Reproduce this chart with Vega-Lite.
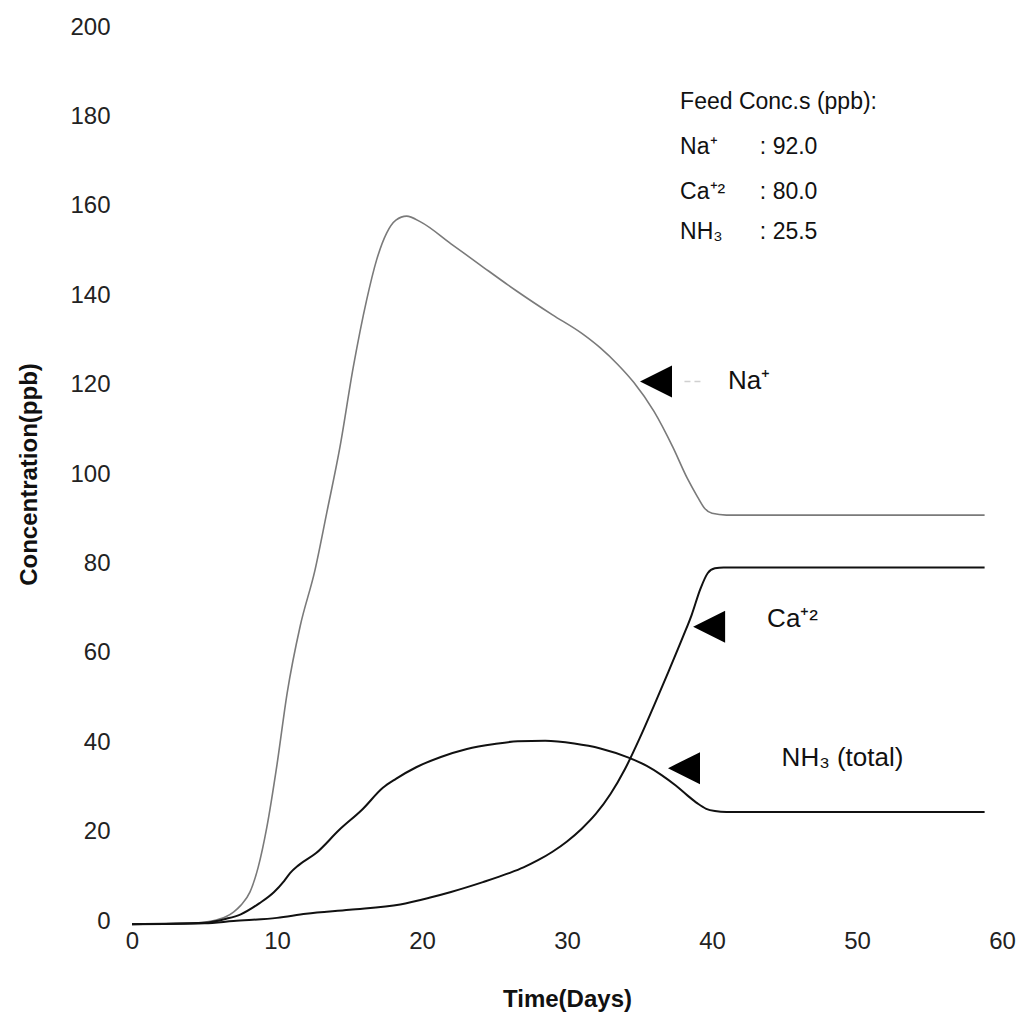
{
  "$schema": "https://vega.github.io/schema/vega-lite/v6.json",
  "width": 870,
  "height": 894,
  "autosize": "none",
  "padding": {"left": 132, "top": 27, "right": 22, "bottom": 106},
  "background": "white",
  "config": {
    "view": {"stroke": null},
    "font": "Liberation Sans",
    "axis": {"grid": false, "domain": false, "ticks": false, "labelColor": "#222", "titleColor": "#111"}
  },
  "datasets": {
    "curves": [
      {"series": "Na", "day": 0, "value": -0.7},
      {"series": "Na", "day": 4, "value": -0.5},
      {"series": "Na", "day": 5.5, "value": 0},
      {"series": "Na", "day": 6.5, "value": 1},
      {"series": "Na", "day": 7, "value": 2},
      {"series": "Na", "day": 7.5, "value": 3.5},
      {"series": "Na", "day": 8.14, "value": 6.5},
      {"series": "Na", "day": 8.7, "value": 12},
      {"series": "Na", "day": 9.3, "value": 21},
      {"series": "Na", "day": 10, "value": 35},
      {"series": "Na", "day": 10.7, "value": 51},
      {"series": "Na", "day": 11.6, "value": 66},
      {"series": "Na", "day": 12.62, "value": 78.5},
      {"series": "Na", "day": 13.43, "value": 91.3},
      {"series": "Na", "day": 14.34, "value": 106},
      {"series": "Na", "day": 15.26, "value": 123.9},
      {"series": "Na", "day": 16.18, "value": 138.9},
      {"series": "Na", "day": 16.87, "value": 147.9},
      {"series": "Na", "day": 17.56, "value": 153.9},
      {"series": "Na", "day": 18.2, "value": 156.8},
      {"series": "Na", "day": 18.94, "value": 157.7},
      {"series": "Na", "day": 19.9, "value": 156.4},
      {"series": "Na", "day": 22, "value": 151.5},
      {"series": "Na", "day": 24, "value": 146.8},
      {"series": "Na", "day": 26.5, "value": 141},
      {"series": "Na", "day": 29, "value": 135.6},
      {"series": "Na", "day": 31, "value": 131.5},
      {"series": "Na", "day": 32.3, "value": 128.2},
      {"series": "Na", "day": 33.5, "value": 124.5},
      {"series": "Na", "day": 34.6, "value": 120.5},
      {"series": "Na", "day": 36, "value": 114},
      {"series": "Na", "day": 37.3, "value": 106},
      {"series": "Na", "day": 38.3, "value": 99},
      {"series": "Na", "day": 39, "value": 94.9},
      {"series": "Na", "day": 39.5, "value": 92.3},
      {"series": "Na", "day": 40, "value": 91.2},
      {"series": "Na", "day": 41, "value": 90.8},
      {"series": "Na", "day": 58.8, "value": 90.8},
      {"series": "Ca", "day": 0, "value": -0.7},
      {"series": "Ca", "day": 5, "value": -0.5},
      {"series": "Ca", "day": 7, "value": 0},
      {"series": "Ca", "day": 10, "value": 0.7},
      {"series": "Ca", "day": 12, "value": 1.6},
      {"series": "Ca", "day": 15, "value": 2.5},
      {"series": "Ca", "day": 18.5, "value": 3.7},
      {"series": "Ca", "day": 20.5, "value": 5.2},
      {"series": "Ca", "day": 22, "value": 6.5},
      {"series": "Ca", "day": 24.2, "value": 8.7},
      {"series": "Ca", "day": 26, "value": 10.7},
      {"series": "Ca", "day": 27, "value": 12},
      {"series": "Ca", "day": 28, "value": 13.6},
      {"series": "Ca", "day": 29, "value": 15.5},
      {"series": "Ca", "day": 30, "value": 17.8},
      {"series": "Ca", "day": 31, "value": 20.6},
      {"series": "Ca", "day": 32, "value": 24},
      {"series": "Ca", "day": 33, "value": 28.4},
      {"series": "Ca", "day": 34, "value": 34},
      {"series": "Ca", "day": 35, "value": 40.8},
      {"series": "Ca", "day": 36, "value": 48.2},
      {"series": "Ca", "day": 37, "value": 55.8},
      {"series": "Ca", "day": 38, "value": 63.6},
      {"series": "Ca", "day": 38.6, "value": 68.5},
      {"series": "Ca", "day": 39.2, "value": 74.3},
      {"series": "Ca", "day": 39.7, "value": 77.8},
      {"series": "Ca", "day": 40.2, "value": 78.9},
      {"series": "Ca", "day": 40.8, "value": 79.1},
      {"series": "Ca", "day": 58.8, "value": 79.1},
      {"series": "NH3", "day": 0, "value": -0.7},
      {"series": "NH3", "day": 5, "value": -0.4},
      {"series": "NH3", "day": 6.5, "value": 0.5},
      {"series": "NH3", "day": 7.5, "value": 1.5},
      {"series": "NH3", "day": 8.8, "value": 4},
      {"series": "NH3", "day": 9.8, "value": 6.5},
      {"series": "NH3", "day": 10.5, "value": 9},
      {"series": "NH3", "day": 10.9, "value": 10.7},
      {"series": "NH3", "day": 11.5, "value": 12.5},
      {"series": "NH3", "day": 12.7, "value": 15.2},
      {"series": "NH3", "day": 14.3, "value": 20.4},
      {"series": "NH3", "day": 15.9, "value": 25},
      {"series": "NH3", "day": 17.3, "value": 29.8},
      {"series": "NH3", "day": 18.2, "value": 31.8},
      {"series": "NH3", "day": 19.6, "value": 34.4},
      {"series": "NH3", "day": 21.3, "value": 36.7},
      {"series": "NH3", "day": 23.1, "value": 38.5},
      {"series": "NH3", "day": 25, "value": 39.6},
      {"series": "NH3", "day": 26.6, "value": 40.2},
      {"series": "NH3", "day": 28.5, "value": 40.3},
      {"series": "NH3", "day": 30.5, "value": 39.7},
      {"series": "NH3", "day": 32.3, "value": 38.6},
      {"series": "NH3", "day": 34.2, "value": 36.6},
      {"series": "NH3", "day": 35.5, "value": 34.7},
      {"series": "NH3", "day": 36.5, "value": 32.7},
      {"series": "NH3", "day": 37.5, "value": 30.3},
      {"series": "NH3", "day": 38.3, "value": 28.1},
      {"series": "NH3", "day": 39, "value": 26.3},
      {"series": "NH3", "day": 39.6, "value": 25.1},
      {"series": "NH3", "day": 40.2, "value": 24.6},
      {"series": "NH3", "day": 41, "value": 24.4},
      {"series": "NH3", "day": 58.8, "value": 24.4}
    ],
    "arrows": [
      {"series": "Na", "day": 36.14, "value": 120.7},
      {"series": "Ca", "day": 39.8, "value": 65.8},
      {"series": "NH3", "day": 38.07, "value": 34.2}
    ],
    "leader": [
      {"day": 38.1, "day2": 39.4, "value": 120.7}
    ],
    "labels": [
      {"text": "Na⁺", "day": 41.1, "value": 120.7},
      {"text": "Ca⁺²", "day": 43.8, "value": 67.5},
      {"text": "NH₃ (total)", "day": 44.8, "value": 36.5}
    ],
    "legend": [
      {"text": "Feed Conc.s (ppb):", "day": 37.8, "value": 183.2},
      {"text": "Na⁺", "day": 37.8, "value": 173.2},
      {"text": ": 92.0", "day": 43.3, "value": 173.2},
      {"text": "Ca⁺²", "day": 37.8, "value": 163.1},
      {"text": ": 80.0", "day": 43.3, "value": 163.1},
      {"text": "NH₃", "day": 37.8, "value": 154.1},
      {"text": ": 25.5", "day": 43.3, "value": 154.1}
    ]
  },
  "layer": [
    {
      "data": {"name": "curves"},
      "transform": [{"filter": "datum.series === 'Na'"}],
      "mark": {"type": "line", "interpolate": "monotone", "color": "#7a7a7a", "strokeWidth": 1.6},
      "encoding": {
        "x": {
          "field": "day", "type": "quantitative",
          "scale": {"domain": [0, 60], "nice": false},
          "axis": {
            "values": [0, 10, 20, 30, 40, 50, 60],
            "labelFontSize": 24, "labelPadding": 8, "labelFlush": false, "labelOverlap": false,
            "title": "Time(Days)", "titleFontSize": 24, "titleFontWeight": "bold", "titlePadding": 34
          }
        },
        "y": {
          "field": "value", "type": "quantitative",
          "scale": {"domain": [0, 200], "nice": false, "zero": false},
          "axis": {
            "values": [0, 20, 40, 60, 80, 100, 120, 140, 160, 180, 200],
            "labelFontSize": 24, "labelPadding": 22, "labelFlush": false, "labelOverlap": false,
            "title": "Concentration(ppb)", "titleFontSize": 24, "titleFontWeight": "bold", "titlePadding": 28
          }
        }
      }
    },
    {
      "data": {"name": "curves"},
      "transform": [{"filter": "datum.series !== 'Na'"}],
      "mark": {"type": "line", "interpolate": "monotone", "color": "#111", "strokeWidth": 2},
      "encoding": {
        "x": {"field": "day", "type": "quantitative"},
        "y": {"field": "value", "type": "quantitative"},
        "detail": {"field": "series", "type": "nominal"}
      }
    },
    {
      "data": {"name": "leader"},
      "mark": {"type": "rule", "color": "#d0d0d0", "strokeWidth": 1.5, "strokeDash": [6, 4]},
      "encoding": {
        "x": {"field": "day", "type": "quantitative"},
        "x2": {"field": "day2"},
        "y": {"field": "value", "type": "quantitative"}
      }
    },
    {
      "data": {"name": "arrows"},
      "mark": {"type": "point", "shape": "M-1,0L1,-1L1,1Z", "size": 1024, "filled": true, "color": "#000", "opacity": 1},
      "encoding": {
        "x": {"field": "day", "type": "quantitative"},
        "y": {"field": "value", "type": "quantitative"}
      }
    },
    {
      "data": {"name": "labels"},
      "mark": {"type": "text", "align": "left", "baseline": "middle", "fontSize": 26, "color": "#111"},
      "encoding": {
        "x": {"field": "day", "type": "quantitative"},
        "y": {"field": "value", "type": "quantitative"},
        "text": {"field": "text"}
      }
    },
    {
      "data": {"name": "legend"},
      "mark": {"type": "text", "align": "left", "baseline": "middle", "fontSize": 23, "color": "#111"},
      "encoding": {
        "x": {"field": "day", "type": "quantitative"},
        "y": {"field": "value", "type": "quantitative"},
        "text": {"field": "text"}
      }
    }
  ]
}
